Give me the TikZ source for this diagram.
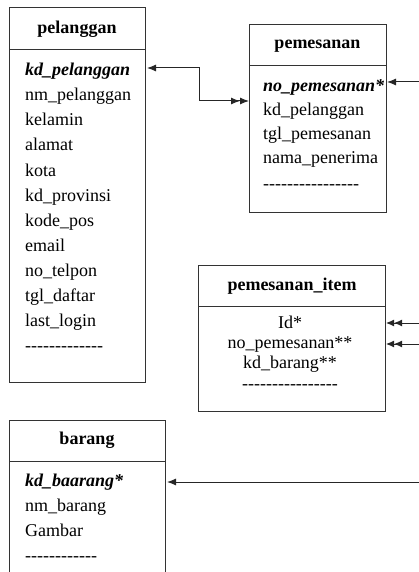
\documentclass[tikz,border=0pt]{standalone}
\usepackage{fontspec}
\setmainfont{Liberation Serif}
\usetikzlibrary{arrows.meta,positioning}

\tikzset{
  kotak/.style={line width=1pt, draw=black!80},
  judul/.style={font=\fontsize{18}{22}\selectfont\bfseries, inner sep=0pt},
  isi/.style={font=\fontsize{18}{22}\selectfont, anchor=west, inner sep=0pt, text height=12pt, text depth=4pt},
  isitengah/.style={isi, anchor=center},
  kunci/.style={isi, font=\fontsize{18}{22}\selectfont\bfseries\itshape},
  relasi/.style={line width=1pt, draw=black!85},
  panah/.tip={Latex[length=9pt,width=7pt]}
}
\newcommand{\garis}[1]{\foreach \n in {1,...,#1}{-}}

\begin{document}
\begin{tikzpicture}[x=1pt,y=-1pt]
\useasboundingbox (0,0) rectangle (419,572);

% Tabel pelanggan
\draw[kotak] (9,8) rectangle (145,382);
\draw[kotak] (9,50) -- (145,50);
\node[judul] (pel) at (77,29) {pelanggan};
\node[kunci] (pel1) at (25,72) {kd\_pelanggan};
\node[isi] (pel2) at (25,97) {nm\_pelanggan};
\node[isi] (pel3) at (25,122) {kelamin};
\node[isi] (pel4) at (25,147) {alamat};
\node[isi] (pel5) at (25,172) {kota};
\node[isi] (pel6) at (25,197) {kd\_provinsi};
\node[isi] (pel7) at (25,222) {kode\_pos};
\node[isi] (pel8) at (25,247) {email};
\node[isi] (pel9) at (25,272) {no\_telpon};
\node[isi] (pel10) at (25,297) {tgl\_daftar};
\node[isi] (pel11) at (25,322) {last\_login};
\node[isi] (pel12) at (25,347) {\garis{13}};

% Tabel pemesanan
\draw[kotak] (249,25) rectangle (386,212);
\draw[kotak] (249,66) -- (386,66);
\node[judul] (pem) at (317.5,46) {pemesanan};
\node[kunci] (pem1) at (263,88) {no\_pemesanan*};
\node[isi] (pem2) at (263,112) {kd\_pelanggan};
\node[isi] (pem3) at (263,136) {tgl\_pemesanan};
\node[isi] (pem4) at (263,160) {nama\_penerima};
\node[isi] (pem5) at (263,185) {\garis{16}};

% Tabel pemesanan_item
\draw[kotak] (198,265) rectangle (385,411);
\draw[kotak] (198,306) -- (385,306);
\node[judul] (item) at (292,286) {pemesanan\_item};
\node[isitengah] (item1) at (290,324) {Id*};
\node[isitengah] (item2) at (290,344) {no\_pemesanan**};
\node[isitengah] (item3) at (290,364) {kd\_barang**};
\node[isitengah] (item4) at (290,385) {\garis{16}};

% Tabel barang
\draw[kotak] (9,574) -- (9,420) -- (165,420) -- (165,574);
\draw[kotak] (9,461) -- (165,461);
\node[judul] (brg) at (87,440) {barang};
\node[kunci] (brg1) at (25,482) {kd\_baarang*};
\node[isi] (brg2) at (25,507) {nm\_barang};
\node[isi] (brg3) at (25,532) {Gambar};
\node[isi] (brg4) at (25,557) {\garis{12}};

% Titik sambungan
\coordinate (a1) at (147,68);
\coordinate (a2) at (199,101);
\coordinate (a3) at (249,101);
\coordinate (b1) at (387,82);
\coordinate (b2) at (419,82);
\coordinate (c1) at (386,323);
\coordinate (c2) at (419,323);
\coordinate (d1) at (386,344);
\coordinate (d2) at (419,344);
\coordinate (e1) at (167,482);
\coordinate (e2) at (419,482);

% Relasi
\draw[relasi, panah-{panah[]panah[]}] (a1) -| (a2) -- (a3);
\draw[relasi, panah-] (b1) -- (b2);
\draw[relasi, {panah[length=8pt]panah[length=8pt]}-] (c1) -- (c2);
\draw[relasi, {panah[length=8pt]panah[length=8pt]}-] (d1) -- (d2);
\draw[relasi, panah-] (e1) -- (e2);
\end{tikzpicture}
\end{document}
